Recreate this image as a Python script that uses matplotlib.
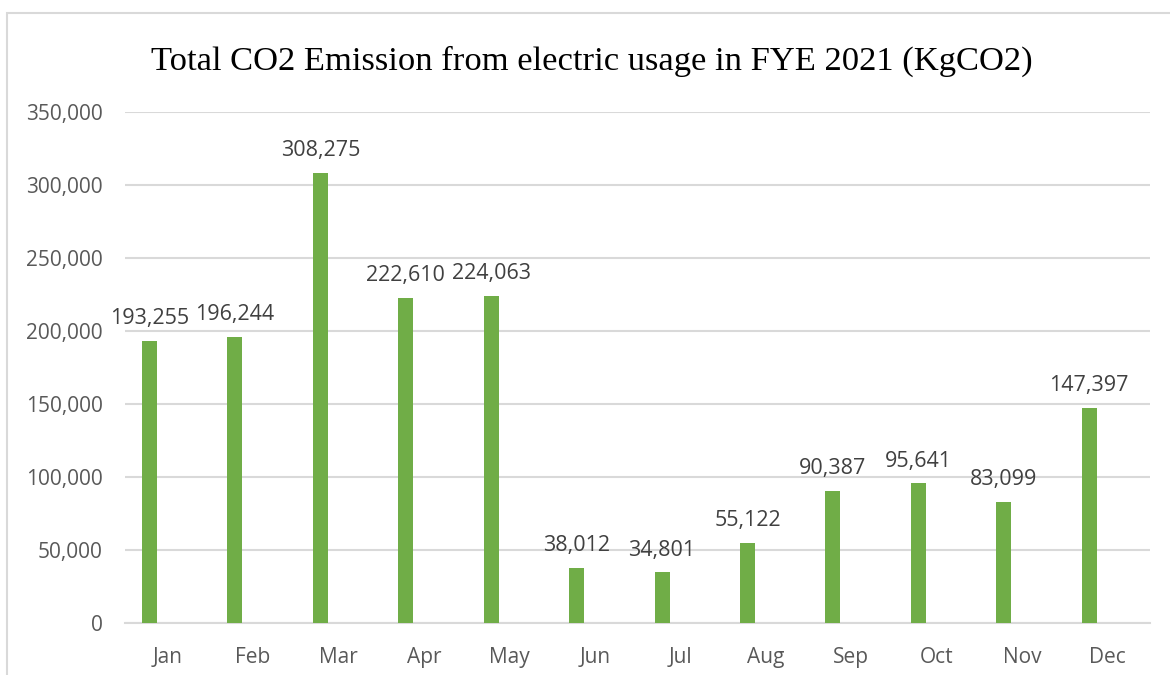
import matplotlib.pyplot as plt
import matplotlib.patches as mpatches
from matplotlib.ticker import FuncFormatter

months = ['Jan', 'Feb', 'Mar', 'Apr', 'May', 'Jun', 'Jul', 'Aug', 'Sep', 'Oct', 'Nov', 'Dec']
emission = [193255, 196244, 308275, 222610, 224063, 38012, 34801, 55122, 90387, 95641, 83099, 147397]
yticks = [0, 50000, 100000, 150000, 200000, 250000, 300000, 350000]

green = '#70AD47'
grid_gray = '#D9D9D9'
text_gray = '#595959'

fig = plt.figure(figsize=(11.7, 6.75), dpi=100)
ax = fig.add_axes([0.1068, 0.077, 0.8762, 0.757])

# chart area border
fig.patches.append(mpatches.Rectangle((0.006, -0.05), 1.1, 1.0307, transform=fig.transFigure,
                                      fill=False, edgecolor=grid_gray, linewidth=1.5))

x = list(range(len(months)))
offset = -0.213
ax.bar([i + offset for i in x], emission, width=0.176, color=green, zorder=3)

for i, v in zip(x, emission):
    ax.annotate(f'{v:,}', (i + offset, v), xytext=(0, 12), textcoords='offset points',
                ha='center', va='baseline', fontsize=15.5, color='#404040', family='Open Sans')

ax.set_xlim(-0.5, 11.5)
ax.set_ylim(0, 350000)
ax.set_yticks(yticks)
ax.yaxis.set_major_formatter(FuncFormatter(lambda v, p: f'{int(v):,}'))
ax.set_xticks(x)
ax.set_xticklabels(months)

for lbl in ax.get_xticklabels() + ax.get_yticklabels():
    lbl.set_family('Open Sans')
    lbl.set_fontsize(15)
    lbl.set_color(text_gray)

ax.tick_params(axis='both', length=0)
ax.tick_params(axis='x', pad=17)
ax.tick_params(axis='y', pad=16)
ax.grid(axis='y', color=grid_gray, linewidth=1.5, zorder=0)
for s in ['top', 'right', 'left']:
    ax.spines[s].set_visible(False)
ax.spines['bottom'].set_color(grid_gray)
ax.spines['bottom'].set_linewidth(1.5)
ax.spines['bottom'].set_zorder(1)

fig.text(0.506, 0.909, 'Total CO2 Emission from electric usage in FYE 2021 (KgCO2)',
         ha='center', va='center', fontsize=24.8, family='Liberation Serif', color='black')

fig.savefig('out.png', dpi=100)
